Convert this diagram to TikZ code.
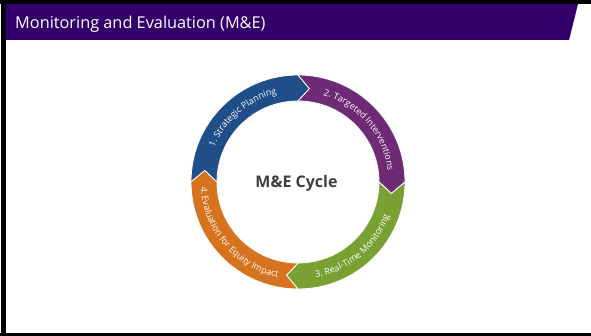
\documentclass[tikz,border=0pt]{standalone}
\usepackage{fontspec}
\setmainfont{Open Sans}
\usetikzlibrary{decorations.text}
\definecolor{hdr}{HTML}{33006B}
\definecolor{cblue}{HTML}{1F4E88}
\definecolor{cpurple}{HTML}{6E2A74}
\definecolor{cgreen}{HTML}{78A033}
\definecolor{corange}{HTML}{D6731E}
\definecolor{cdark}{HTML}{3F3F3F}
\tikzset{
  segm/.style={fill=#1, draw=white, line width=0.8pt},
  arctext/.style={decorate, decoration={text along path, text align=center, text color=white,
     text={|\fontsize{9}{10}\selectfont|#1}}}
}
\begin{document}
\begin{tikzpicture}[x=1pt,y=1pt]
\useasboundingbox (0,0) rectangle (591,336);
\fill[white] (0,0) rectangle (591,336);
\fill[black] (0,332) rectangle (591,336);
\fill[black] (0,0) rectangle (591,3);
\fill[black] (1,0) rectangle (5.5,336);
\fill[hdr] (5.5,332) -- (578,332) -- (569,296) -- (5.5,296) -- cycle;
\node[anchor=base west, text=white, font=\fontsize{16.3}{19}\selectfont, inner sep=0] (title) at (15,307.5) {Monitoring and Evaluation (M\&E)};
\begin{scope}[shift={(298,154)}]
\path[segm=cblue] (180:107) arc[start angle=180,end angle=90,radius=107] -- (83:94) -- (90:81) arc[start angle=90,end angle=180,radius=81] -- (173:94) -- cycle;
\path[segm=cpurple] (90:107) arc[start angle=90,end angle=0,radius=107] -- (-7:94) -- (0:81) arc[start angle=0,end angle=90,radius=81] -- (83:94) -- cycle;
\path[segm=cgreen] (0:107) arc[start angle=0,end angle=-90,radius=107] -- (-97:94) -- (-90:81) arc[start angle=-90,end angle=0,radius=81] -- (-7:94) -- cycle;
\path[segm=corange] (270:107) arc[start angle=270,end angle=180,radius=107] -- (173:94) -- (180:81) arc[start angle=180,end angle=270,radius=81] -- (263:94) -- cycle;
\path[arctext={1. Strategic Planning}] (171:90.5) arc[start angle=171,end angle=90,radius=90.5];
\path[arctext={2. Targeted Interventions}] (81:90.5) arc[start angle=81,end angle=0,radius=90.5];
\path[arctext={3. Real-Time Monitoring}] (-95:97.5) arc[start angle=-95,end angle=-5,radius=97.5];
\path[arctext={4. Evaluation for Equity Impact}] (175:97.5) arc[start angle=175,end angle=266,radius=97.5];
\node[font=\bfseries\fontsize{16}{19}\selectfont, text=cdark] (cycle) at (-1.5,-1) {M\&E Cycle};
\end{scope}
\end{tikzpicture}
\end{document}
